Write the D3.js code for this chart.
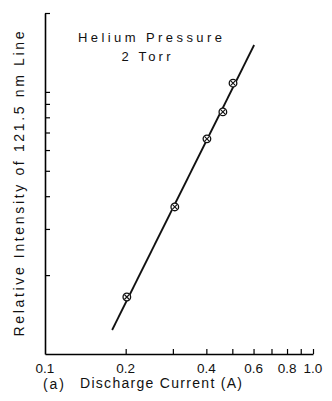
<!DOCTYPE html>
<html>
<head>
<meta charset="utf-8">
<script src="https://cdn.jsdelivr.net/npm/d3@7"></script>
<style>
  body { margin: 0; background: #fff; }
  text { font-family: "Liberation Sans", Arial, sans-serif; fill: #111; }
</style>
</head>
<body>
<svg id="chart"></svg>
<script>
// measured points (discharge current A, relative intensity)
var current = [0.202, 0.305, 0.402, 0.461, 0.503];
var intensity = [1.65, 3.64, 6.62, 8.39, 10.8];

// straight fit line drawn on log-log axes
var fitCurrent = [0.178, 0.603];
var fitIntensity = [1.235, 15.1];

var xTicks = [0.2, 0.3, 0.4, 0.5, 0.6, 0.7, 0.8, 0.9, 1.0];
var xLabels = [0.1, 0.2, 0.4, 0.6, 0.8, 1.0];
var yTicks = [2, 3, 4, 5, 6, 7, 8, 9, 10, 20];

var screen = {width: 332, height: 401};
var margins = {top: 13, bottom: 47, left: 45, right: 19};

var svg = d3.select("#chart")
    .attr("width", screen.width)
    .attr("height", screen.height);

var xScale = d3.scaleLog()
    .domain([0.1, 1.0])
    .range([margins.left, screen.width - margins.right]);

var yScale = d3.scaleLog()
    .domain([1, 20])
    .range([screen.height - margins.bottom, margins.top]);

var x0 = xScale(0.1), y0 = yScale(1);

// x axis, ticks point inward
var xAxis = svg.append("g")
    .attr("transform", "translate(0," + y0 + ")")
    .call(d3.axisBottom(xScale)
        .tickValues(xTicks)
        .tickSizeInner(-5)
        .tickSizeOuter(0)
        .tickFormat(""));
xAxis.select(".domain").attr("stroke-width", 1.6);
xAxis.selectAll(".tick line").attr("stroke-width", 1.2);

// tick labels
svg.append("g")
    .selectAll("text")
    .data(xLabels)
    .enter()
    .append("text")
    .attr("x", function(d){ return xScale(d); })
    .attr("y", y0 + 19)
    .attr("text-anchor", "middle")
    .style("font-size", "13.5px")
    .text(function(d){ return d.toFixed(1); });

// y axis, no labels
var yAxis = svg.append("g")
    .attr("transform", "translate(" + x0 + ",0)")
    .call(d3.axisLeft(yScale)
        .tickValues(yTicks)
        .tickSizeInner(-5)
        .tickSizeOuter(0)
        .tickFormat(""));
yAxis.select(".domain").attr("stroke-width", 1.6);
yAxis.selectAll(".tick line").attr("stroke-width", 1.2);

// fit line
var line = d3.line()
    .x(function(d){ return xScale(d[0]); })
    .y(function(d){ return yScale(d[1]); });

svg.append("path")
    .datum(d3.zip(fitCurrent, fitIntensity))
    .attr("d", line)
    .attr("fill", "none")
    .attr("stroke", "#111")
    .attr("stroke-width", 1.8);

// markers: circle with a cross
var pts = svg.append("g")
    .selectAll("g")
    .data(d3.zip(current, intensity))
    .enter()
    .append("g")
    .attr("transform", function(d){ return "translate(" + xScale(d[0]) + "," + yScale(d[1]) + ")"; });

pts.append("circle")
    .attr("r", 3.8)
    .attr("fill", "#fff")
    .attr("stroke", "#111")
    .attr("stroke-width", 1.3);
pts.append("path")
    .attr("d", "M-2.5,-2.5L2.5,2.5M-2.5,2.5L2.5,-2.5")
    .attr("stroke", "#111")
    .attr("stroke-width", 1.1);

// annotation
svg.append("text")
    .attr("x", 150).attr("y", 42)
    .attr("text-anchor", "middle")
    .attr("textLength", 144).attr("lengthAdjust", "spacing")
    .style("font-size", "13px")
    .text("Helium Pressure");
svg.append("text")
    .attr("x", 146).attr("y", 61)
    .attr("text-anchor", "middle")
    .attr("textLength", 49).attr("lengthAdjust", "spacing")
    .style("font-size", "13px")
    .text("2 Torr");

// axis titles
svg.append("text")
    .attr("transform", "translate(24,184) rotate(-90)")
    .attr("text-anchor", "middle")
    .attr("textLength", 305).attr("lengthAdjust", "spacing")
    .style("font-size", "14px")
    .text("Relative Intensity of 121.5 nm Line");

svg.append("text")
    .attr("x", 43).attr("y", 389)
    .attr("textLength", 21).attr("lengthAdjust", "spacing")
    .style("font-size", "14px")
    .text("(a)");
svg.append("text")
    .attr("x", 80).attr("y", 388)
    .attr("textLength", 162).attr("lengthAdjust", "spacing")
    .style("font-size", "14px")
    .text("Discharge Current (A)");
</script>
</body>
</html>
